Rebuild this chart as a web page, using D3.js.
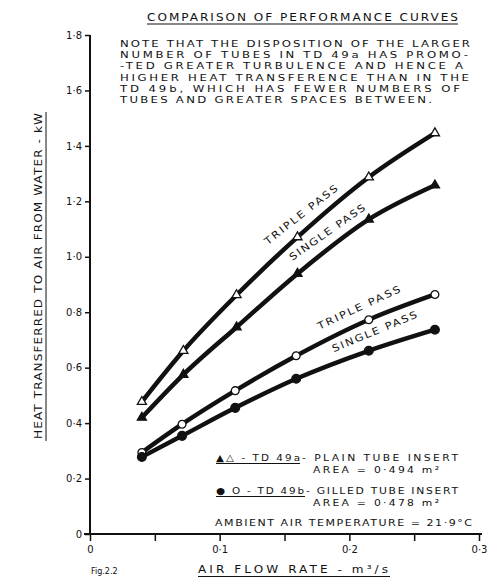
<!DOCTYPE html>
<html>
<head>
<meta charset="utf-8">
<script src="https://cdn.jsdelivr.net/npm/d3@7"></script>
<style>
  body { margin: 0; background: #fff; }
  svg { display: block; font-family: "DejaVu Sans", sans-serif; }
  text { fill: #111; }
</style>
</head>
<body>
<script>
// air flow rate (m3/s) where readings were taken
var flowA = [0.040, 0.072, 0.113, 0.160, 0.215, 0.266]
var flowB = [0.040, 0.071, 0.112, 0.159, 0.215, 0.266]
// heat transferred (kW)
var tripleA = [0.477, 0.661, 0.862, 1.071, 1.287, 1.446]
var singleA = [0.420, 0.575, 0.746, 0.939, 1.135, 1.258]
var tripleB = [0.294, 0.396, 0.517, 0.643, 0.773, 0.864]
var singleB = [0.278, 0.354, 0.455, 0.560, 0.661, 0.737]

var yTicks = [0, 0.2, 0.4, 0.6, 0.8, 1.0, 1.2, 1.4, 1.6, 1.8]
var xTicks = [0, 0.1, 0.2, 0.3]
var xMinorTicks = [0.05, 0.15, 0.25]

var noteLines = [
	"NOTE THAT THE DISPOSITION OF THE LARGER",
	"NUMBER OF TUBES IN TD 49a HAS PROMO-",
	"-TED GREATER TURBULENCE AND HENCE A",
	"HIGHER HEAT TRANSFERENCE THAN IN THE",
	"TD 49b, WHICH HAS FEWER NUMBERS OF",
	"TUBES AND GREATER SPACES BETWEEN."
]
var noteWidths = [350, 348, 343, 349, 340, 312]

var W = 487, H = 578
var fmt = (v) => v === 0 ? "0" : d3.format(".1f")(v).replace(".", "·")

var svg = d3.select("body").append("svg").attr("width", W).attr("height", H)

// stretched lettering, like the stencil text of the drawing
var wideText = (parent, px, py, size, len, str, sx) => {
	return parent.append("text")
		.attr("transform", "translate(" + px + "," + py + ") scale(" + sx + ",1)")
		.attr("font-size", size)
		.attr("textLength", len / sx)
		.attr("lengthAdjust", "spacing")
		.text(str)
}

var x = d3.scaleLinear().domain([0, 0.3]).range([90, 479])
var y = d3.scaleLinear().domain([0, 1.8]).range([534, 35])

// axes
var yAxis = d3.axisLeft(y).tickValues(yTicks).tickSize(5).tickPadding(3).tickFormat(fmt)
var gy = svg.append("g").attr("transform", "translate(" + x(0) + ",0)").call(yAxis)
gy.select(".domain").attr("stroke", "#111").attr("stroke-width", 2).attr("d", "M0," + y(1.8) + "V" + y(0))
gy.selectAll(".tick line").attr("stroke", "#111").attr("stroke-width", 1.5)
gy.selectAll(".tick text").attr("font-size", 10).attr("font-family", "DejaVu Sans").attr("fill", "#111")

var xAxis = d3.axisBottom(x).tickValues(xTicks.concat(xMinorTicks)).tickSize(7).tickPadding(5)
	.tickFormat((d) => xTicks.indexOf(d) >= 0 ? fmt(d) : "")
var gx = svg.append("g").attr("transform", "translate(0," + y(0) + ")").call(xAxis)
gx.select(".domain").attr("stroke", "#111").attr("stroke-width", 2).attr("d", "M" + (x(0) - 6) + ",0H482")
gx.selectAll(".tick line").attr("stroke", "#111").attr("stroke-width", 1.5)
gx.selectAll(".tick text").attr("font-size", 10).attr("font-family", "DejaVu Sans").attr("fill", "#111")

// curves
var series = [
	{ xs: flowA, ys: tripleA, sym: d3.symbolTriangle, fill: "#fff", size: 36 },
	{ xs: flowA, ys: singleA, sym: d3.symbolTriangle, fill: "#111", size: 36 },
	{ xs: flowB, ys: tripleB, sym: d3.symbolCircle, fill: "#fff", size: 48 },
	{ xs: flowB, ys: singleB, sym: d3.symbolCircle, fill: "#111", size: 60 }
]
var line = d3.line().x((d) => x(d[0])).y((d) => y(d[1])).curve(d3.curveMonotoneX)

series.forEach((s) => {
	var pts = s.xs.map((v, i) => [v, s.ys[i]])
	svg.append("path").datum(pts)
		.attr("d", line)
		.attr("fill", "none")
		.attr("stroke", "#111")
		.attr("stroke-width", 4.5)
	svg.selectAll(null).data(pts).enter()
		.append("path")
		.attr("transform", (d) => "translate(" + x(d[0]) + "," + y(d[1]) + ")")
		.attr("d", d3.symbol().type(s.sym).size(s.size))
		.attr("fill", s.fill)
		.attr("stroke", "#111")
		.attr("stroke-width", 1.3)
})

// curve labels
var curveLabels = [
	{ t: "TRIPLE PASS", x: 0.137, y: 1.042, a: -38, len: 90 },
	{ t: "SINGLE PASS", x: 0.156, y: 0.985, a: -35, len: 90 },
	{ t: "TRIPLE PASS", x: 0.177, y: 0.737, a: -25, len: 90 },
	{ t: "SINGLE PASS", x: 0.188, y: 0.656, a: -22.5, len: 91 }
]
curveLabels.forEach((c) => {
	svg.append("text")
		.attr("transform", "translate(" + x(c.x) + "," + y(c.y) + ") rotate(" + c.a + ") scale(1.15,1)")
		.attr("font-size", 10)
		.attr("textLength", c.len / 1.15)
		.attr("lengthAdjust", "spacing")
		.text(c.t)
})

// title + note
wideText(svg, 147, 21, 10.5, 311, "COMPARISON OF PERFORMANCE CURVES", 1.15)
svg.append("line").attr("x1", 147).attr("x2", 458).attr("y1", 24).attr("y2", 24)
	.attr("stroke", "#111").attr("stroke-width", 1)

noteLines.forEach((t, i) => {
	wideText(svg, 120, 47 + i * 11.2, 9.6, noteWidths[i], t, 1.22)
})

// legend
var legend = svg.append("g")
wideText(legend, 216, 461, 9.4, 84, "▲△ - TD 49a", 1.1)
legend.append("line").attr("x1", 216).attr("x2", 300).attr("y1", 463.5).attr("y2", 463.5).attr("stroke", "#111")
wideText(legend, 302, 461, 9.4, 156, "- PLAIN  TUBE  INSERT", 1.15)
wideText(legend, 313, 472.5, 9.4, 126, "AREA  =  0·494  m²", 1.15)
wideText(legend, 216, 494, 9.4, 88, "● O - TD 49b", 1.1)
legend.append("line").attr("x1", 216).attr("x2", 305).attr("y1", 496.5).attr("y2", 496.5).attr("stroke", "#111")
wideText(legend, 306, 494, 9.4, 152, "- GILLED TUBE INSERT", 1.15)
wideText(legend, 313, 505.5, 9.4, 126, "AREA  =  0·478  m²", 1.15)
wideText(legend, 215, 526, 9.6, 257, "AMBIENT AIR TEMPERATURE = 21·9°C", 1.15)

// axis titles
svg.append("text")
	.attr("transform", "translate(42,276) rotate(-90) scale(1.15,1)")
	.attr("text-anchor", "middle")
	.attr("font-size", 10.5)
	.attr("textLength", 326 / 1.15).attr("lengthAdjust", "spacing")
	.text("HEAT TRANSFERRED TO AIR FROM WATER - kW")
svg.append("line").attr("x1", 46).attr("x2", 46).attr("y1", 112).attr("y2", 441)
	.attr("stroke", "#111").attr("stroke-width", 1)

wideText(svg, 198, 573, 10.5, 190, "AIR FLOW RATE - m³/s", 1.15)
svg.append("line").attr("x1", 198).attr("x2", 390).attr("y1", 576.5).attr("y2", 576.5)
	.attr("stroke", "#111").attr("stroke-width", 1)

svg.append("text").attr("x", 91).attr("y", 574).attr("font-size", 8).text("Fig.2.2")
</script>
</body>
</html>
